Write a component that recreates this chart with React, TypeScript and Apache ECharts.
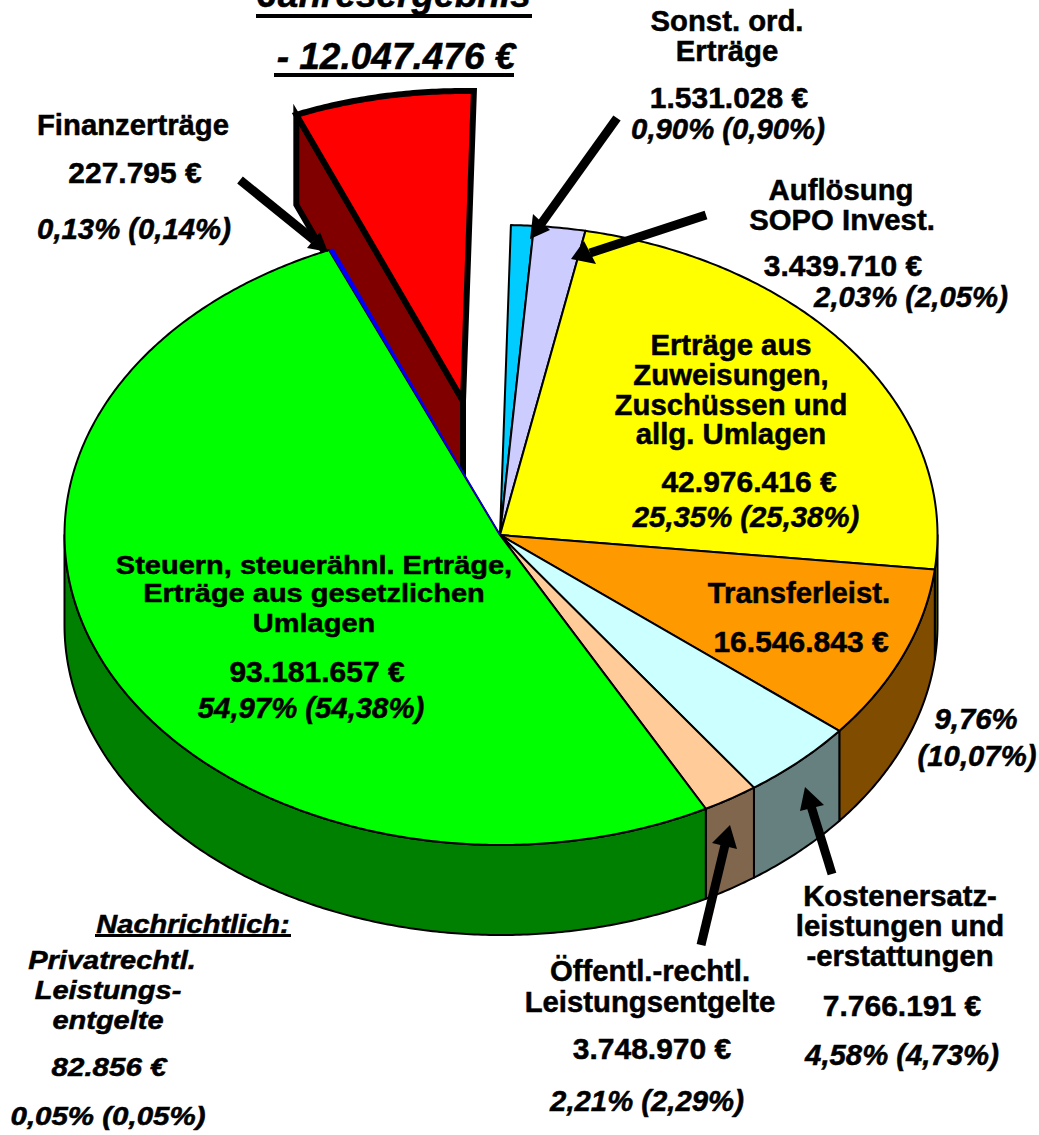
import React, { useEffect, useRef } from "react";
import * as echarts from "echarts";

const sliceNames = [
  "Sonst. ord. Erträge",
  "Auflösung SOPO Invest.",
  "Erträge aus Zuweisungen, Zuschüssen und allg. Umlagen",
  "Transferleist.",
  "Kostenersatzleistungen und -erstattungen",
  "Öffentl.-rechtl. Leistungsentgelte",
  "Steuern, steuerähnl. Erträge, Erträge aus gesetzlichen Umlagen",
  "Privatrechtl. Leistungsentgelte",
  "Finanzerträge",
  "Jahresergebnis",
];
const sliceValues = [1531028, 3439710, 42976416, 16546843, 7766191, 3748970, 93181657, 82856, 227795, 12047476];
const topColors = ["#00ccff", "#ccccff", "#ffff00", "#ff9900", "#ccffff", "#ffcc99", "#00ff00", "#0000ff", "#0000ff", "#ff0000"];
const sideColors = ["#006680", "#666680", "#808000", "#804c00", "#668080", "#80664c", "#008000", "#000080", "#000080", "#800000"];

const LOSS = 9;
const THIN = [7, 8];
const FONT = "'Liberation Sans', Arial, sans-serif";
const CX = 500, CY = 535, RX = 436.5, RY = 310, DEPTH = 90;
const SHIFT_X = 1;
const START = 1.3;
const EXPLODE = [-37, -134];

const total = sliceValues.reduce((a, b) => a + b, 0);
function sliceRange(i: number): [number, number] {
  let a = START;
  for (let k = 0; k < i; k++) a += (sliceValues[k] / total) * 360;
  return [a, a + (sliceValues[i] / total) * 360];
}
function pt(t: number, dx = 0, dy = 0): number[] {
  const r = (t * Math.PI) / 180;
  return [CX + SHIFT_X + dx + RX * Math.sin(r), CY + dy - RY * Math.cos(r)];
}
function arc(a: number, b: number, dx = 0, dy = 0): number[][] {
  const n = Math.max(2, Math.ceil(Math.abs(b - a) * 2));
  const out: number[][] = [];
  for (let i = 0; i <= n; i++) out.push(pt(a + ((b - a) * i) / n, dx, dy));
  return out;
}

function renderSide(params: any) {
  const i = params.dataIndex;
  const [a0, a1] = sliceRange(i);
  if (i === LOSS) {
    const [dx, dy] = EXPLODE;
    const tip = [CX + dx, CY + dy];
    const edge = pt(a0, dx, dy);
    return {
      type: "polygon",
      shape: { points: [edge, tip, [tip[0], tip[1] + DEPTH], [edge[0], edge[1] + DEPTH]] },
      style: { fill: sideColors[i], stroke: "#000", lineWidth: 6, lineJoin: "miter" },
    };
  }
  const s = Math.max(a0, 90), e = Math.min(a1, 270);
  if (e <= s) return null;
  const topArc = arc(s, e);
  const botArc = arc(e, s, 0, DEPTH);
  return {
    type: "polygon",
    shape: { points: [...topArc, ...botArc] },
    style: { fill: sideColors[i], stroke: "#000", lineWidth: 2, lineJoin: "round" },
  };
}

function renderTop(params: any) {
  const i = params.dataIndex;
  const [a0, a1] = sliceRange(i);
  const loss = i === LOSS;
  const dx = loss ? EXPLODE[0] : 0, dy = loss ? EXPLODE[1] : 0;
  const thin = THIN.includes(i);
  return {
    type: "polygon",
    shape: { points: [[CX + dx, CY + dy], ...arc(a0, a1, dx, dy)] },
    style: {
      fill: topColors[i],
      stroke: thin ? "#0000ff" : "#000",
      lineWidth: loss ? 6 : thin ? 0.5 : 2,
      lineJoin: loss ? "miter" : "round",
    },
  };
}

const W = 29.3; // words and percentages
const N = 30; // euro amounts
type L = [string, number, number, number, boolean?, number?];
// text, centre x, centre y, font size, italic, horizontal stretch
const labels: L[] = [
  ["Jahresergebnis", 394, -6, 37, true],
  ["- 12.047.476 €", 396, 56, 37, true],
  ["Sonst. ord.", 727, 20, W],
  ["Erträge", 727, 50, W],
  ["1.531.028 €", 729, 97, N],
  ["0,90% (0,90%)", 728, 128, W, true],
  ["Auflösung", 841, 189, W],
  ["SOPO Invest.", 842, 219, W],
  ["3.439.710 €", 843, 265, N],
  ["2,03% (2,05%)", 911, 296, W, true],
  ["Finanzerträge", 133, 124, W],
  ["227.795 €", 135, 172, N],
  ["0,13% (0,14%)", 134, 228, W, true],
  ["Erträge aus", 731, 344, W],
  ["Zuweisungen,", 731, 374, W],
  ["Zuschüssen und", 731, 404, W],
  ["allg. Umlagen", 731, 433, W],
  ["42.976.416 €", 749, 481, N],
  ["25,35% (25,38%)", 746, 516, W, true],
  ["Transferleist.", 799, 592, W],
  ["16.546.843 €", 801, 641, N],
  ["9,76%", 976, 718, W, true],
  ["(10,07%)", 977, 755, W, true],
  ["Steuern, steuerähnl. Erträge,", 314, 565, 25, false, 1.16],
  ["Erträge aus gesetzlichen", 314, 593, 25, false, 1.16],
  ["Umlagen", 314, 623, 25, false, 1.16],
  ["93.181.657 €", 317, 671, N],
  ["54,97% (54,38%)", 311, 707, W, true],
  ["Kostenersatz-", 900, 895, W],
  ["leistungen und", 900, 925, W],
  ["-erstattungen", 900, 955, W],
  ["7.766.191 €", 902, 1005, N],
  ["4,58% (4,73%)", 902, 1054, W, true],
  ["Öffentl.-rechtl.", 650, 970, W],
  ["Leistungsentgelte", 650, 1001, W],
  ["3.748.970 €", 652, 1048, N],
  ["2,21% (2,29%)", 647, 1100, W, true],
  ["Nachrichtlich:", 193, 924, 25, true, 1.16],
  ["Privatrechtl.", 112, 960, 25, true, 1.16],
  ["Leistungs-", 108, 990, 25, true, 1.16],
  ["entgelte", 108, 1020, 25, true, 1.16],
  ["82.856 €", 109, 1067, 25, true, 1.18],
  ["0,05% (0,05%)", 108, 1116, 25, true, 1.18],
];

const underlines = [
  [256, 14, 276, 4],
  [274, 73, 240, 4],
  [95, 934, 196, 3],
];

// shaft start, shaft end, head tip, two head base corners
const arrows = [
  [[240, 180], [314, 240], [328, 252], [320, 232], [307, 248]],
  [[617, 118], [541, 224], [530, 239], [533, 214], [550, 230]],
  [[706, 215], [590, 253], [571, 259], [584, 241], [596, 264]],
  [[832, 874], [811, 806], [805, 787], [800, 811], [824, 805]],
  [[701, 945], [725, 845], [730, 825], [712, 843], [737, 849]],
];

export default function App() {
  const ref = useRef<HTMLDivElement>(null);
  useEffect(() => {
    document.body.style.margin = "0";
    document.body.style.overflow = "hidden";
    const chart = echarts.init(ref.current!, null, { renderer: "svg" });
    const data = sliceValues.map((v, i) => ({ name: sliceNames[i], value: [v] }));
    const graphic: any[] = [];
    for (const [text, x, y, size, italic, sx] of labels) {
      graphic.push({
        type: "text",
        x,
        y,
        scaleX: sx ?? 1,
        z: 10,
        style: {
          text,
          fill: "#000",
          stroke: "#000",
          lineWidth: 0.5,
          font: `${italic ? "italic " : ""}bold ${size}px ${FONT}`,
          align: "center",
          verticalAlign: "middle",
        },
      });
    }
    for (const [x, y, width, height] of underlines) {
      graphic.push({ type: "rect", z: 10, shape: { x, y, width, height }, style: { fill: "#000" } });
    }
    for (const [a, b, tip, c, d] of arrows) {
      graphic.push({
        type: "line",
        z: 9,
        shape: { x1: a[0], y1: a[1], x2: b[0], y2: b[1] },
        style: { stroke: "#000", lineWidth: 9 },
      });
      graphic.push({ type: "polygon", z: 9, shape: { points: [tip, c, d] }, style: { fill: "#000" } });
    }
    const common = { type: "custom", coordinateSystem: "none", data, silent: true };
    chart.setOption({
      animation: false,
      graphic,
      series: [
        { ...common, name: "Jahresergebnis Seite", z: 1, renderItem: (p: any) => (p.dataIndex === LOSS ? renderSide(p) : null) },
        { ...common, name: "Jahresergebnis", z: 2, renderItem: (p: any) => (p.dataIndex === LOSS ? renderTop(p) : null) },
        { ...common, name: "Seiten", z: 3, renderItem: (p: any) => (p.dataIndex === LOSS ? null : renderSide(p)) },
        { ...common, name: "Flächen", z: 4, renderItem: (p: any) => (p.dataIndex === LOSS ? null : renderTop(p)) },
      ],
    });
    return () => chart.dispose();
  }, []);
  return <div ref={ref} style={{ width: 1039, height: 1135, background: "#fff" }} />;
}
